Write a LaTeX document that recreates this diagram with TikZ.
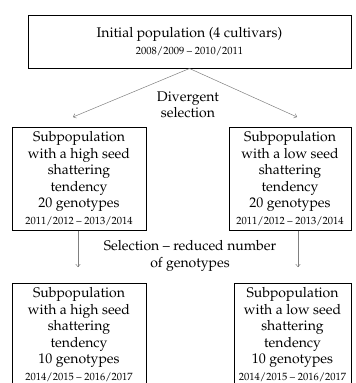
\documentclass[tikz,border=0pt]{standalone}
\usepackage[T1]{fontenc}
\usepackage{mathpazo}
\usepackage{tikz}
\usetikzlibrary{
	calc,
	arrows.meta,
	positioning
	}
\tikzstyle{boite-std}=[draw,line width=1pt,align=center,inner sep=0pt]
\tikzstyle{fleche-std}=[draw=black!50,line width=0.5pt,-{To[length=3pt,width=5pt]}]
\newcommand{\annees}[1]{{\fontsize{10.5}{12}\selectfont #1}}

\begin{document}
\begin{tikzpicture}[x=1pt,y=-1pt,font=\fontsize{14}{16.5}\selectfont]
\clip (0,0) rectangle (356,383);

\node[boite-std,minimum width=323pt,minimum height=53pt] (boite0) at (189.5,41.5)
	{Initial population (4 cultivars)\\\annees{2008/2009 -- 2010/2011}};

\node[boite-std,minimum width=134pt,minimum height=103pt] (boite1) at (79,178.5)
	{Subpopulation\\with a high seed\\shattering\\tendency\\20 genotypes\\\annees{2011/2012 -- 2013/2014}};
\node[boite-std,minimum width=122pt,minimum height=103pt] (boite2) at (290,178.5)
	{Subpopulation\\with a low seed\\shattering\\tendency\\20 genotypes\\\annees{2011/2012 -- 2013/2014}};

\node[boite-std,minimum width=134pt,minimum height=103pt] (boite3) at (79,334.5)
	{Subpopulation\\with a high seed\\shattering\\tendency\\10 genotypes\\\annees{2014/2015 -- 2016/2017}};
\node[boite-std,minimum width=117pt,minimum height=103pt] (boite4) at (292.5,334.5)
	{Subpopulation\\with a low seed\\shattering\\tendency\\10 genotypes\\\annees{2014/2015 -- 2016/2017}};

\coordinate (fin1) at (73,117);
\coordinate (fin2) at (297,117);
\coordinate (fin3) at (78,267);
\coordinate (fin4) at (298,267);

\draw[fleche-std] (boite0.south) -- (fin1);
\draw[fleche-std] (boite0.south) -- (fin2);
\draw[fleche-std] (boite1.south -| fin3) -- (fin3);
\draw[fleche-std] (boite2.south -| fin4) -- (fin4);

\node[align=center] (etiq1) at (188,105) {Divergent\\selection};
\node[align=center] (etiq2) at (190,256) {Selection -- reduced number\\of genotypes};
\end{tikzpicture}
\end{document}
